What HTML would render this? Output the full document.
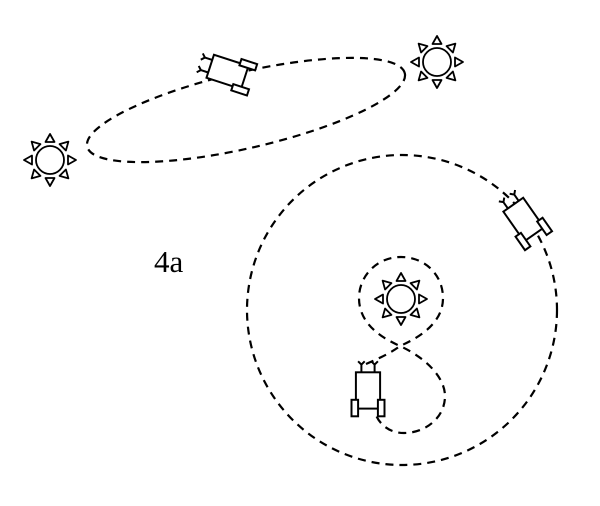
<!DOCTYPE html>
<html><head><style>body{margin:0;background:#fff}</style></head><body>
<svg width="600" height="501" viewBox="0 0 600 501" xmlns="http://www.w3.org/2000/svg">
<defs>
<g id="sun" fill="#fff" stroke="#000" stroke-width="1.8" stroke-linejoin="round">
<circle r="14"/>
<g id="tri"><path d="M0,-26 L-4.5,-18 L4.5,-18 Z"/></g>
<use href="#tri" transform="rotate(45)"/><use href="#tri" transform="rotate(90)"/><use href="#tri" transform="rotate(135)"/>
<use href="#tri" transform="rotate(180)"/><use href="#tri" transform="rotate(225)"/><use href="#tri" transform="rotate(270)"/><use href="#tri" transform="rotate(315)"/>
</g>
<g id="robot" fill="#fff" stroke="#000" stroke-width="1.8">
<rect x="-11" y="-17" width="22" height="33"/>
<rect x="-15" y="8" width="6" height="15"/>
<rect x="9" y="8" width="6" height="15"/>
<path d="M-6,-17 V-24 M-9,-27 L-6,-24 L-3,-27 M6,-17 V-24 M3,-27 L6,-24 L9,-27" fill="none"/>
</g>
</defs>
<g fill="none" stroke="#000" stroke-width="2.2" stroke-dasharray="8,6">
<ellipse cx="246" cy="110" rx="163" ry="38" transform="rotate(-13 246 110)"/>
<circle cx="402" cy="310" r="155"/>
<path d="M366 364 C385 356,395 350,400 346 C425 335,443 320,443 298 C443 275,425 257,401 257 C377 257,359 276,359 298 C359 320,375 335,400 346 C430 360,445 380,445 396 C445 418,425 433,404 433 C390 433,380 425,376 415"/>
</g>
<use href="#sun" x="437" y="62"/>
<use href="#sun" x="50" y="160"/>
<use href="#sun" x="401" y="299"/>
<use href="#robot" transform="translate(228,72) rotate(-72) scale(1.1)"/>
<use href="#robot" transform="translate(524,220) rotate(-35) scale(1.1)"/>
<use href="#robot" transform="translate(368,391) scale(1.1)"/>
<text x="154" y="272" font-family="Liberation Serif, serif" font-size="31">4a</text>
</svg>
</body></html>
